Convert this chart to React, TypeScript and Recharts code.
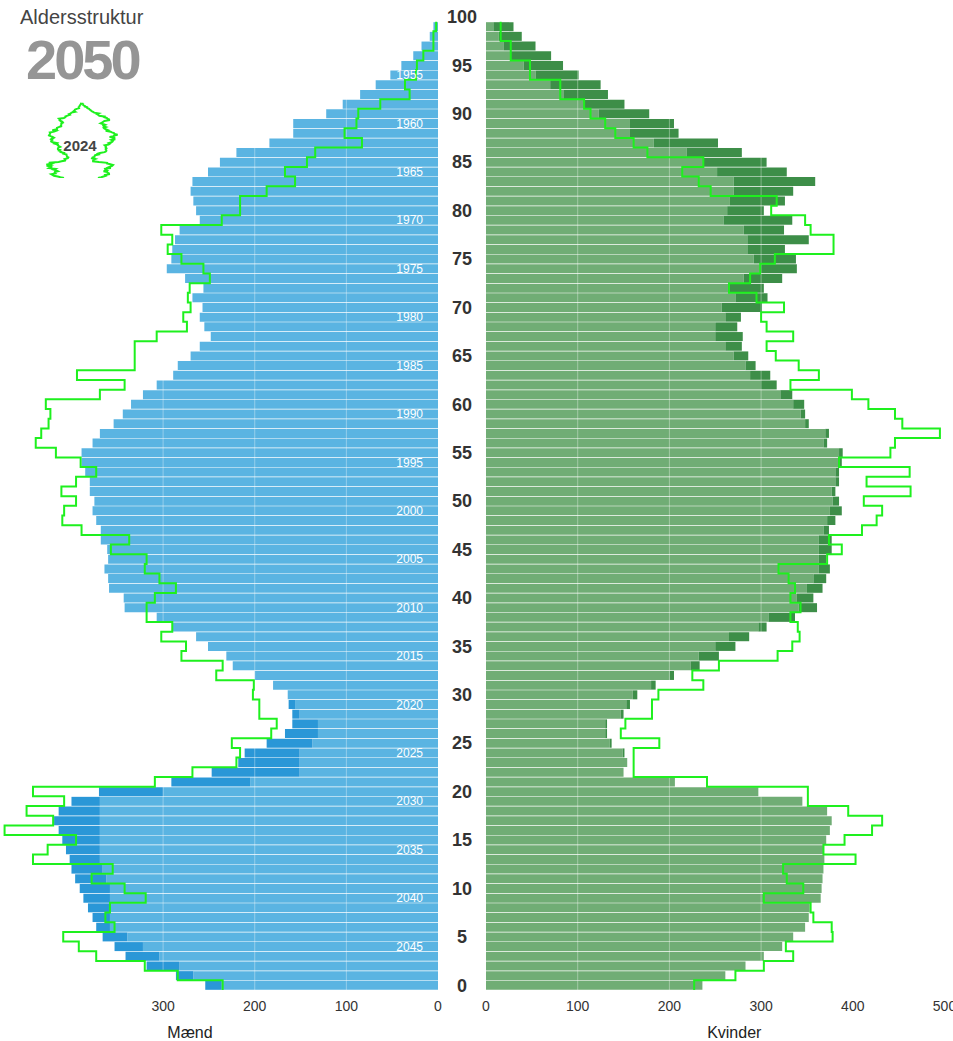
import React from 'react';
import { ComposedChart, Bar, Line, XAxis, YAxis, ReferenceLine } from 'recharts';

// age categories 0..100 (100 has no data)
const ages = Array.from({ length: 101 }, (_, i) => i);

// 2050 projection, men: light part (base) and dark part (extra) per age 0..99
const menBase = [
  236, 267, 282, 304, 322, 339, 358, 358, 358, 358,
  358, 362, 366, 369, 369, 369, 369, 369, 369, 369,
  300, 205, 151, 151, 151, 137, 131, 131, 151, 156,
  164, 180, 200, 224, 231, 251, 264, 290, 307, 342,
  343, 359, 360, 364, 360, 361, 368, 368, 373, 377,
  375, 380, 380, 385, 389, 389, 377, 369, 354, 344,
  335, 322, 307, 289, 284, 270, 260, 248, 255, 260,
  257, 268, 256, 276, 296, 291, 290, 287, 282, 260,
  264, 267, 270, 268, 251, 238, 220, 184, 158, 158,
  122, 104, 85, 68, 52, 40, 27, 18, 9, 5,
];
const menExtra = [
  18, 19, 36, 37, 31, 27, 15, 19, 24, 29,
  33, 34, 34, 33, 37, 41, 45, 50, 45, 31,
  70, 86, 96, 67, 60, 50, 36, 28, 8, 7,
];

// 2050 projection, women
const womenBase = [
  236, 261, 283, 303, 323, 335, 348, 352, 353, 365,
  366, 367, 368, 369, 368, 371, 375, 377, 372, 345,
  297, 206, 150, 154, 149, 135, 130, 130, 147, 153,
  160, 180, 200, 223, 232, 250, 265, 297, 308, 341,
  339, 350, 357, 363, 363, 363, 363, 368, 372, 375,
  378, 377, 381, 381, 384, 385, 368, 370, 348, 343,
  335, 321, 299, 288, 283, 270, 261, 250, 250, 261,
  257, 272, 265, 281, 299, 292, 285, 285, 281, 259,
  263, 266, 270, 270, 252, 237, 219, 183, 157, 157,
  123, 107, 85, 70, 54, 41, 27, 19, 14, 8,
];
const womenExtra = [
  0, 0, 0, 0, 0, 0, 0, 0, 0, 0,
  0, 0, 0, 0, 0, 0, 0, 0, 0, 0,
  0, 0, 0, 0, 2, 2, 2, 2, 3, 4,
  5, 5, 5, 10, 22, 22, 22, 9, 29, 20,
  18, 17, 14, 12, 8, 14, 14, 6, 9, 13,
  7, 4, 4, 4, 4, 4, 4, 4, 4, 5,
  12, 13, 18, 22, 11, 16, 18, 30, 24, 17,
  44, 35, 38, 42, 40, 46, 41, 67, 44, 75,
  40, 60, 65, 89, 76, 69, 60, 70, 53, 48,
  55, 44, 48, 55, 47, 43, 44, 35, 25, 22,
];

// 2024 outline
const men2024 = [
  235, 284, 320, 373, 392, 409, 353, 363, 358, 319,
  342, 378, 355, 442, 426, 395, 473, 420, 449, 408,
  442, 309, 268, 220, 216, 225, 182, 176, 195, 195,
  202, 201, 242, 235, 280, 275, 302, 290, 318, 318,
  309, 286, 304, 320, 318, 357, 337, 389, 410, 408,
  395, 411, 395, 373, 390, 417, 439, 433, 425, 423,
  428, 369, 342, 394, 331, 331, 331, 307, 274, 278,
  270, 273, 271, 249, 256, 280, 295, 290, 302, 236,
  216, 216, 187, 156, 167, 143, 134, 83, 102, 89,
  87, 63, 31, 36, 24, 23, 16, 5, 5, 2,
];
const women2024 = [
  227, 272, 303, 335, 327, 378, 377, 357, 354, 303,
  346, 328, 324, 403, 368, 391, 421, 432, 395, 351,
  351, 241, 161, 161, 161, 189, 147, 152, 181, 181,
  188, 237, 225, 254, 318, 334, 342, 340, 332, 343,
  332, 337, 330, 319, 372, 388, 374, 410, 426, 432,
  412, 463, 415, 462, 385, 441, 446, 495, 454, 446,
  417, 399, 332, 363, 341, 316, 306, 335, 306, 300,
  325, 295, 265, 288, 299, 315, 379, 379, 354, 348,
  311, 317, 245, 232, 214, 237, 176, 161, 141, 130,
  114, 107, 81, 81, 48, 48, 27, 27, 16, 16,
];

const leftTicks = [0, 100, 200, 300];
const rightTicks = [0, 100, 200, 300, 400, 500];

const rows = ages.map((a) => ({
  age: a,
  menBase: menBase[a] ?? null,
  menExtra: a < 100 ? menExtra[a] ?? 0 : null,
  womenBase: womenBase[a] ?? null,
  womenExtra: womenExtra[a] ?? null,
  men24: men2024[a] ?? null,
  women24: women2024[a] ?? null,
  menIcon: men2024[a] != null ? -men2024[a] : null,
}));

// step outline that runs vertically through each band (horizontal bars)
const stepY = (context: any) => {
  let pts: [number, number][] = [];
  return {
    areaStart() {},
    areaEnd() {},
    lineStart() {
      pts = [];
    },
    lineEnd() {
      if (!pts.length) return;
      const h = pts.length > 1 ? (pts[0][1] - pts[1][1]) / 2 : 0;
      context.moveTo(pts[0][0], pts[0][1] + h);
      for (let i = 1; i < pts.length; i++) {
        const m = (pts[i - 1][1] + pts[i][1]) / 2;
        context.lineTo(pts[i - 1][0], m);
        context.lineTo(pts[i][0], m);
      }
      const last = pts[pts.length - 1];
      context.lineTo(last[0], last[1] - h);
    },
    point(x: number, y: number) {
      pts.push([+x, +y]);
    },
  };
};

const FONT = '"Liberation Sans", Arial, sans-serif';
const LIME = '#1ef01e';

export default function App() {
  return (
    <div style={{ position: 'absolute', left: 0, top: 0, width: 953, height: 1041, background: '#fff', fontFamily: FONT, overflow: 'hidden' }}>
      {/* Men */}
      <div style={{ position: 'absolute', left: 0, top: 0 }}>
        <ComposedChart
          layout="vertical"
          width={452}
          height={1041}
          data={rows}
          margin={{ top: 12, right: 14, bottom: 0, left: 0 }}
          barCategoryGap={0.5}
        >
          <XAxis
            type="number"
            reversed
            domain={[0, 478]}
            ticks={leftTicks}
            interval={0}
            axisLine={false}
            tickLine={false}
            tickMargin={5}
            height={51}
            tick={{ fill: '#333', fontSize: 14 }}
            label={{ value: 'Mænd', position: 'insideBottom', offset: 3, dx: -29, fill: '#222', fontSize: 16 }}
          />
          <YAxis
            type="category"
            dataKey="age"
            reversed
            orientation="right"
            mirror
            interval={0}
            axisLine={false}
            tickLine={false}
            tickMargin={9}
            tick={{ fill: '#ffffff', fontSize: 12 }}
            tickFormatter={(a: number) => (a >= 4 && a <= 94 && (2049 - a) % 5 === 0 ? String(2049 - a) : '')}
          />
          <Bar dataKey="menBase" stackId="m" fill="#5ab4e2" isAnimationActive={false} />
          <Bar dataKey="menExtra" stackId="m" fill="#2a97d7" isAnimationActive={false} />
          {leftTicks.slice(1).map((t) => (
            <ReferenceLine key={t} x={t} stroke="#ffffff" strokeOpacity={0.35} />
          ))}
          <Line
            dataKey="men24"
            type={stepY as any}
            stroke={LIME}
            strokeWidth={2}
            dot={false}
            activeDot={false}
            isAnimationActive={false}
          />
        </ComposedChart>
      </div>

      {/* Women */}
      <div style={{ position: 'absolute', left: 438, top: 0 }}>
        <ComposedChart
          layout="vertical"
          width={515}
          height={1041}
          data={rows}
          margin={{ top: 12, right: 8.5, bottom: 0, left: 0 }}
          barCategoryGap={0.5}
        >
          <XAxis
            type="number"
            domain={[0, 500]}
            ticks={rightTicks}
            interval={0}
            axisLine={false}
            tickLine={false}
            tickMargin={5}
            height={51}
            tick={{ fill: '#333', fontSize: 14 }}
            label={{ value: 'Kvinder', position: 'insideBottom', offset: 3, dx: 19, fill: '#222', fontSize: 16 }}
          />
          <YAxis
            type="category"
            dataKey="age"
            reversed
            width={48}
            interval={0}
            axisLine={false}
            tickLine={false}
            tickSize={0}
            tickMargin={0}
            tick={{ fill: '#333', fontSize: 18, fontWeight: 'bold', textAnchor: 'middle', dx: -24 }}
            tickFormatter={(a: number) => (a % 5 === 0 ? String(a) : '')}
          />
          <Bar dataKey="womenBase" stackId="w" fill="#70ad75" isAnimationActive={false} />
          <Bar dataKey="womenExtra" stackId="w" fill="#3d8e48" isAnimationActive={false} />
          {rightTicks.slice(1, 5).map((t) => (
            <ReferenceLine key={t} x={t} stroke="#ffffff" strokeOpacity={0.35} />
          ))}
          <Line
            dataKey="women24"
            type={stepY as any}
            stroke={LIME}
            strokeWidth={2}
            dot={false}
            activeDot={false}
            isAnimationActive={false}
          />
        </ComposedChart>
      </div>

      {/* Title */}
      <svg width={200} height={100} style={{ position: 'absolute', left: 0, top: 0 }}>
        <text x={20} y={23.5} fontSize={20} fill="#444" fontFamily={FONT}>
          Aldersstruktur
        </text>
        <text x={26} y={78.5} fontSize={56} fontWeight="bold" fill="#959595" letterSpacing={-3} fontFamily={FONT}>
          2050
        </text>
      </svg>

      {/* 2024 mini pyramid */}
      <div style={{ position: 'absolute', left: 46, top: 102 }}>
        <ComposedChart layout="vertical" width={72} height={76} data={rows} margin={{ top: 0, right: 0, bottom: 0, left: 0 }}>
          <XAxis type="number" domain={[-480, 500]} hide />
          <YAxis type="category" dataKey="age" reversed hide />
          <Line dataKey="menIcon" type="linear" stroke={LIME} strokeWidth={2} dot={false} activeDot={false} isAnimationActive={false} />
          <Line dataKey="women24" type="linear" stroke={LIME} strokeWidth={2} dot={false} activeDot={false} isAnimationActive={false} />
        </ComposedChart>
      </div>
      <svg width={200} height={200} style={{ position: 'absolute', left: 0, top: 0 }}>
        <text x={80} y={150.5} fontSize={15} fontWeight="bold" fill="#444" textAnchor="middle" fontFamily={FONT}>
          2024
        </text>
      </svg>
    </div>
  );
}
